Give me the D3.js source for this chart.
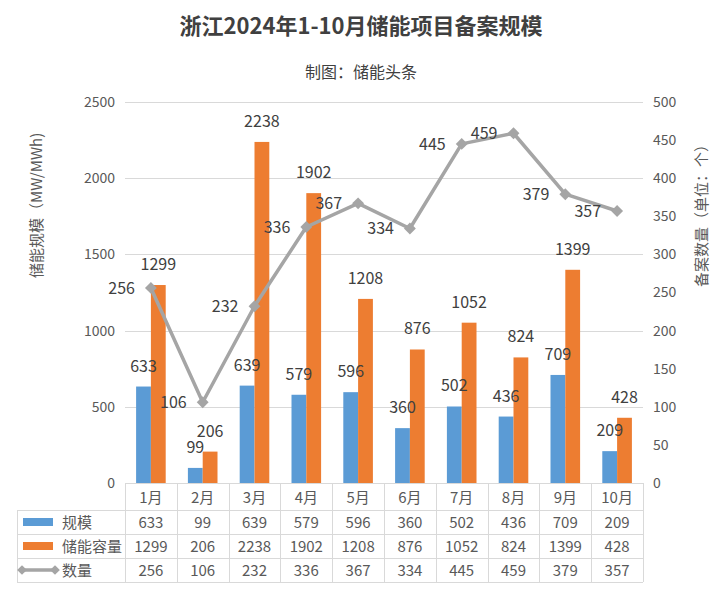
<!DOCTYPE html>
<html>
<head>
<meta charset="utf-8">
<script src="https://cdn.jsdelivr.net/npm/d3@7"></script>
<style>
	body { margin: 0; background: #fff; }
	text { font-family: "Noto Sans CJK SC", "Noto Sans", sans-serif; }
</style>
</head>
<body>
<svg width="723" height="599"></svg>
<script>
var months = ["1月", "2月", "3月", "4月", "5月", "6月", "7月", "8月", "9月", "10月"];
var scaleMW = [633, 99, 639, 579, 596, 360, 502, 436, 709, 209]; //规模
var capacity = [1299, 206, 2238, 1902, 1208, 876, 1052, 824, 1399, 428]; //储能容量
var counts = [256, 106, 232, 336, 367, 334, 445, 459, 379, 357]; //数量
var leftTicks = [0, 500, 1000, 1500, 2000, 2500];
var rightTicks = [0, 50, 100, 150, 200, 250, 300, 350, 400, 450, 500];

var svg = d3.select("svg"),
	width = +svg.attr("width"),
	height = +svg.attr("height");

var plotL = 125, plotR = 643, plotT = 102, plotB = 483; //plot area edges (window.top is read-only, so no "top")
var blue = "#5B9BD5", orange = "#ED7D31", grey = "#A5A5A5", grid = "#D9D9D9";

var x = d3.scaleBand().domain(months).range([plotL, plotR]);
var xs = d3.scaleBand().domain(["a", "b"]).range([0, 29.6]); //two bars inside each month
var yL = d3.scaleLinear().domain([0, 2500]).range([plotB, plotT]);
var yR = d3.scaleLinear().domain([0, 500]).range([plotB, plotT]);

// title
svg.append("text").attr("x", 361).attr("y", 34).attr("text-anchor", "middle")
	.attr("font-size", 22).attr("font-weight", "bold").attr("fill", "#404040")
	.text("浙江2024年1-10月储能项目备案规模");
svg.append("text").attr("x", 361).attr("y", 78).attr("text-anchor", "middle")
	.attr("font-size", 16).attr("fill", "#404040")
	.text("制图：储能头条");

// gridlines
svg.append("g").selectAll("line").data(leftTicks.slice(1)).enter().append("line")
	.attr("x1", plotL).attr("x2", plotR)
	.attr("y1", function(d) { return Math.round(yL(d)) + 0.5; }).attr("y2", function(d) { return Math.round(yL(d)) + 0.5; })
	.attr("stroke", grid).attr("stroke-width", 1);

// left axis
var axL = svg.append("g").attr("transform", "translate(" + plotL + ",0)")
	.call(d3.axisLeft(yL).tickValues(leftTicks).tickFormat(d3.format("d")).tickSize(0).tickPadding(10));
axL.select(".domain").remove();
axL.selectAll("text").attr("font-size", 14).attr("fill", "#595959").attr("font-family", null);

// right axis
var axR = svg.append("g").attr("transform", "translate(" + plotR + ",0)")
	.call(d3.axisRight(yR).tickValues(rightTicks).tickFormat(d3.format("d")).tickSize(0).tickPadding(10));
axR.select(".domain").remove();
axR.selectAll("text").attr("font-size", 14).attr("fill", "#595959").attr("font-family", null);

// axis titles
svg.append("text").attr("transform", "translate(42,278) rotate(-90)")
	.attr("font-size", 15).attr("fill", "#595959").text("储能规模（MW/MWh)");
svg.append("text").attr("transform", "translate(707,287) rotate(-90)")
	.attr("font-size", 15).attr("fill", "#595959").text("备案数量（单位：个）");

// bars
var groups = svg.append("g").selectAll("g").data(months).enter().append("g")
	.attr("transform", function(d) { return "translate(" + (x(d) + x.bandwidth() / 2 - 14.8) + ",0)"; });

groups.append("rect").attr("x", xs("a")).attr("width", xs.bandwidth())
	.attr("y", function(d, i) { return yL(scaleMW[i]); })
	.attr("height", function(d, i) { return plotB - yL(scaleMW[i]); })
	.attr("fill", blue);
groups.append("rect").attr("x", xs("b")).attr("width", xs.bandwidth())
	.attr("y", function(d, i) { return yL(capacity[i]); })
	.attr("height", function(d, i) { return plotB - yL(capacity[i]); })
	.attr("fill", orange);

groups.append("text").attr("x", xs("a") + xs.bandwidth() / 2).attr("text-anchor", "middle")
	.attr("y", function(d, i) { return yL(scaleMW[i]) - 15; })
	.attr("font-size", 16).attr("fill", "#404040")
	.text(function(d, i) { return scaleMW[i]; });
groups.append("text").attr("x", xs("b") + xs.bandwidth() / 2).attr("text-anchor", "middle")
	.attr("y", function(d, i) { return yL(capacity[i]) - 15; })
	.attr("font-size", 16).attr("fill", "#404040")
	.text(function(d, i) { return capacity[i]; });

// line of counts
var line = d3.line()
	.x(function(d, i) { return x(months[i]) + x.bandwidth() / 2; })
	.y(function(d) { return yR(d); });

svg.append("path").datum(counts).attr("d", line)
	.attr("fill", "none").attr("stroke", grey).attr("stroke-width", 3.5).attr("stroke-linejoin", "round");

var diamond = d3.symbol().type(d3.symbolDiamond2).size(90);
svg.append("g").selectAll("path").data(counts).enter().append("path")
	.attr("d", diamond)
	.attr("transform", function(d, i) { return "translate(" + (x(months[i]) + x.bandwidth() / 2) + "," + yR(d) + ")"; })
	.attr("fill", grey);

svg.append("g").selectAll("text").data(counts).enter().append("text")
	.attr("x", function(d, i) { return x(months[i]) + x.bandwidth() / 2 - 16; })
	.attr("y", function(d) { return yR(d); })
	.attr("dy", "0.35em").attr("text-anchor", "end")
	.attr("font-size", 16).attr("fill", "#404040")
	.text(function(d) { return d; });

// data table under the chart
var rowTop = [483, 510, 534, 558], rowBot = 582, tableLeft = 17;
var rows = [
	{ name: "规模", values: scaleMW, key: "bar", color: blue },
	{ name: "储能容量", values: capacity, key: "bar", color: orange },
	{ name: "数量", values: counts, key: "line", color: grey }
];
var table = svg.append("g").attr("stroke", grid).attr("stroke-width", 1);

// horizontal rules
table.append("line").attr("x1", plotL).attr("x2", plotR).attr("y1", rowTop[0] + 0.5).attr("y2", rowTop[0] + 0.5);
rowTop.slice(1).concat([rowBot]).forEach(function(yy) {
	table.append("line").attr("x1", tableLeft).attr("x2", plotR).attr("y1", yy + 0.5).attr("y2", yy + 0.5);
});
// vertical rules
months.forEach(function(m) {
	table.append("line").attr("x1", Math.round(x(m)) + 0.5).attr("x2", Math.round(x(m)) + 0.5).attr("y1", rowTop[0]).attr("y2", rowBot);
});
table.append("line").attr("x1", plotR + 0.5).attr("x2", plotR + 0.5).attr("y1", rowTop[0]).attr("y2", rowBot);
table.append("line").attr("x1", tableLeft + 0.5).attr("x2", tableLeft + 0.5).attr("y1", rowTop[1]).attr("y2", rowBot);

// month labels
svg.append("g").selectAll("text").data(months).enter().append("text")
	.attr("x", function(d) { return x(d) + x.bandwidth() / 2; })
	.attr("y", (rowTop[0] + rowTop[1]) / 2 + 1).attr("dy", "0.35em")
	.attr("text-anchor", "middle").attr("font-size", 15).attr("fill", "#595959")
	.text(function(d) { return d; });

rows.forEach(function(r, k) {
	var y0 = rowTop[k + 1], y1 = k + 2 < rowTop.length ? rowTop[k + 2] : rowBot, cy = (y0 + y1) / 2;
	if (r.key == "bar") {
		svg.append("rect").attr("x", 23).attr("y", cy - 4).attr("width", 30).attr("height", 8).attr("fill", r.color);
	} else {
		svg.append("line").attr("x1", 22).attr("x2", 55).attr("y1", cy).attr("y2", cy)
			.attr("stroke", r.color).attr("stroke-width", 3.5);
		[22, 55].forEach(function(px) {
			svg.append("path").attr("d", d3.symbol().type(d3.symbolDiamond2).size(60))
				.attr("transform", "translate(" + px + "," + cy + ")").attr("fill", r.color);
		});
	}
	svg.append("text").attr("x", 62).attr("y", cy + 1).attr("dy", "0.35em")
		.attr("font-size", 15).attr("fill", "#595959").text(r.name);
	svg.append("g").selectAll("text").data(r.values).enter().append("text")
		.attr("x", function(d, i) { return x(months[i]) + x.bandwidth() / 2; })
		.attr("y", cy + 1).attr("dy", "0.35em").attr("text-anchor", "middle")
		.attr("font-size", 15).attr("fill", "#595959")
		.text(function(d) { return d; });
});
</script>
</body>
</html>
